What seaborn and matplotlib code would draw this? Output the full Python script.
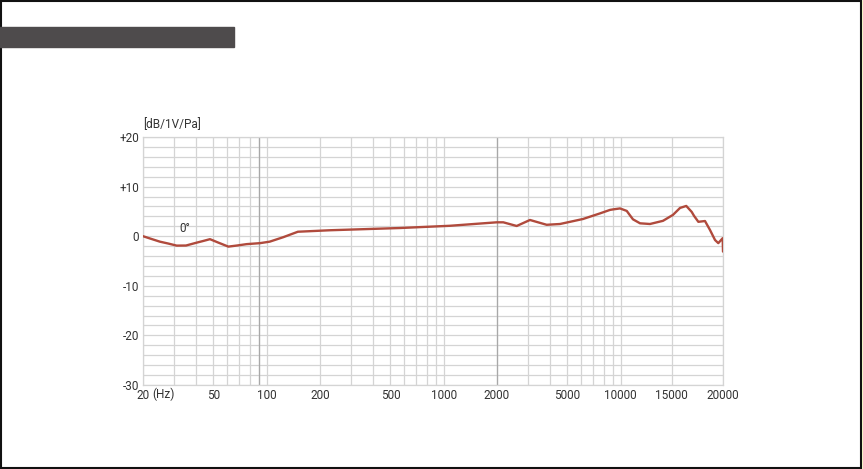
import numpy as np
import pandas as pd
import seaborn as sns
import matplotlib.pyplot as plt
from matplotlib.patches import Rectangle
from matplotlib.lines import Line2D

# frequency response (Hz, dB)
freq_hz = [20, 21.9, 24.9, 27.7, 31, 35, 40.2, 43.7, 47.8, 53.1, 60.7, 67.9,
           77, 91.7, 104, 124, 150, 228, 566, 1085, 1993, 2171, 2584, 3072,
           3818, 4540, 6124, 7640, 8700, 9040, 9910, 10590, 10910, 11200,
           11890, 12860, 14135, 15110, 15800, 16410, 16940, 17170, 17590,
           18240, 18730, 19220, 19540, 19970, 20000]
level_db = [0.0, -0.46, -1.1, -1.47, -1.9, -1.88, -1.3, -0.97, -0.6, -1.27,
            -2.1, -1.88, -1.6, -1.4, -1.1, -0.2, 0.9, 1.2, 1.65, 2.1, 2.8,
            2.8, 2.06, 3.27, 2.3, 2.46, 3.47, 4.6, 5.3, 5.4, 5.6, 5.1, 4.2,
            3.4, 2.6, 2.46, 3.1, 4.3, 5.7, 6.1, 4.9, 4.1, 2.9, 3.06, 1.25,
            -0.77, -1.4, -0.4, -3.1]

x_ticks = [20, 50, 100, 200, 500, 1000, 2000, 5000, 10000, 15000, 20000]
x_grid = [30, 40, 60, 70, 80, 90, 300, 400, 600, 700, 800, 900,
          3000, 4000, 6000, 7000, 8000, 9000]
y_ticks = [-30, -20, -10, 0, 10, 20]
y_tick_labels = ['-30', '-20', '-10', '0', '+10', '+20']

df = pd.DataFrame({'freq': freq_hz, 'level': level_db})

# chart is log up to 10 kHz, then linear to 20 kHz
SPAN = 0.578


def fwd(f):
    f = np.asarray(f, dtype=float)
    lin = 4 + (f - 1e4) / 1e4 * SPAN
    lg = np.log10(np.clip(f, 1e-9, None))
    return np.where(f <= 1e4, lg, lin)


def inv(p):
    p = np.asarray(p, dtype=float)
    lg = 10 ** np.minimum(p, 4)
    lin = 1e4 + (p - 4) / SPAN * 1e4
    return np.where(p <= 4, lg, lin)


sns.set_style('white')
plt.rcParams['font.family'] = ['Roboto', 'DejaVu Sans']

fig = plt.figure(figsize=(8.63, 4.69), dpi=100)
ax = fig.add_axes([143 / 863, 1 - 385 / 469, 580 / 863, 248 / 469])

ax.set_xscale('function', functions=(fwd, inv))
ax.set_xlim(20, 20000)
ax.set_ylim(-30, 20)

grid_col = '#d4d4d4'
ax.set_xticks(x_ticks)
ax.set_xticklabels([str(t) for t in x_ticks])
ax.set_xticks(x_grid, minor=True)
ax.set_yticks(y_ticks)
ax.set_yticklabels(y_tick_labels)
ax.set_yticks(np.arange(-30, 21, 2), minor=True)
ax.grid(which='both', color=grid_col, linewidth=0.9)
for f in (90, 2000):
    ax.axvline(f, color='#a8a8a8', linewidth=0.9, zorder=1)
ax.set_axisbelow(True)

ax.tick_params(which='both', length=0, labelsize=8.5, colors='#333333')
ax.tick_params(axis='x', pad=3)
ax.tick_params(axis='y', pad=3)
for s in ax.spines.values():
    s.set_color(grid_col)
    s.set_linewidth(0.9)

sns.lineplot(data=df, x='freq', y='level', ax=ax, color='#b04a3c',
             linewidth=1.7, estimator=None, sort=False, zorder=3)
ax.set_xlabel('')
ax.set_ylabel('')

ax.text(0, 1.025, '[dB/1V/Pa]', transform=ax.transAxes, fontsize=8.5,
        color='#333333', ha='left', va='bottom')
ax.annotate('(Hz)', xy=(20, -30), xycoords='data', xytext=(7, -2),
            textcoords='offset points', fontsize=8.5, color='#333333',
            ha='left', va='top')
ax.text(34.5, 1.5, '0°', fontsize=8.5, color='#333333', ha='center', va='center')

# page frame and title bar
fig.add_artist(Rectangle((1 / 863, 1.5 / 469), 860 / 863, 466.5 / 469,
                         transform=fig.transFigure, fill=False,
                         edgecolor='#111111', linewidth=1.5))
fig.add_artist(Line2D([862.5 / 863, 862.5 / 863], [0, 1],
                      transform=fig.transFigure, color='#e8e800', linewidth=1))
fig.add_artist(Rectangle((0, 1 - 47 / 469), 234 / 863, 20 / 469,
                         transform=fig.transFigure, color='#4e4b4c'))

fig.savefig('out.png', dpi=100)
